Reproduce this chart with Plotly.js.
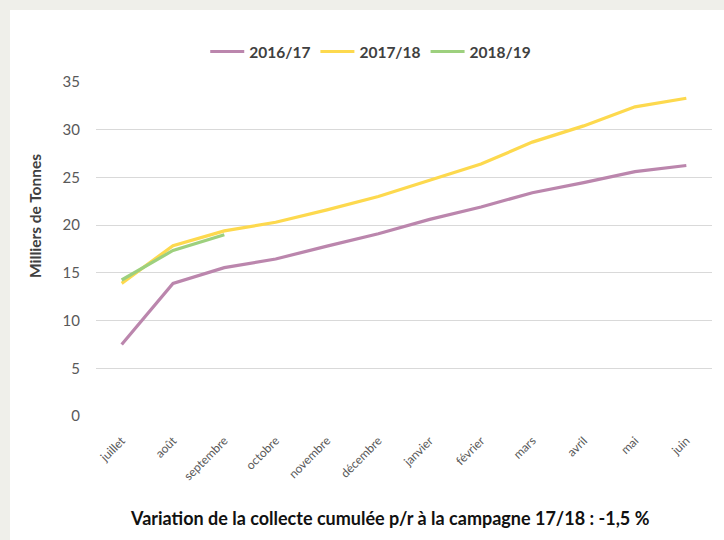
<!DOCTYPE html>
<html>
<head>
<meta charset="utf-8">
<script src="https://cdn.plot.ly/plotly-3.0.1.min.js"></script>
<style>
html,body{margin:0;padding:0;background:#efefea;width:724px;height:540px;overflow:hidden;}
#panel{position:absolute;left:10px;top:10px;width:714px;height:530px;background:#fff;}
#chart{width:714px;height:530px;}
</style>
</head>
<body>
<div id="panel"><div id="chart"></div></div>
<script>
const months = ["juillet","août","septembre","octobre","novembre","décembre","janvier","février","mars","avril","mai","juin"];
const s1617 = [7.5, 13.9, 15.55, 16.45, 17.8, 19.1, 20.6, 21.9, 23.4, 24.45, 25.6, 26.25];
const s1718 = [13.9, 17.85, 19.4, 20.3, 21.6, 23.0, 24.7, 26.4, 28.7, 30.4, 32.4, 33.3];
const s1819 = [14.25, 17.35, 19.0];
const seriesNames = ["2016/17","2017/18","2018/19"];
const colors = ["#bb86ad","#fdd94e","#9dd07e"];
const yTickVals = [0,5,10,15,20,25,30,35];

const traces = [s1617, s1718, s1819].map((vals, i) => ({
  x: months.slice(0, vals.length),
  y: vals,
  name: seriesNames[i],
  type: "scatter",
  mode: "lines",
  line: {color: colors[i], width: 3.2}
}));

const font = "Lato, 'Open Sans', sans-serif";
const layout = {
  width: 714, height: 530,
  margin: {l: 86, r: 12, t: 72, b: 124},
  paper_bgcolor: "#ffffff",
  plot_bgcolor: "#ffffff",
  font: {family: font, color: "#595959"},
  showlegend: true,
  legend: {
    orientation: "h", x: 0.446, xanchor: "center", y: 1.09, yanchor: "middle",
    font: {family: font, size: 15.5, color: "#404040", weight: "bold"},
    itemwidth: 34, tracegroupgap: 0
  },
  xaxis: {
    type: "category",
    categoryorder: "array", categoryarray: months,
    range: [-0.5, 11.5],
    showgrid: false, zeroline: false, showline: false,
    tickangle: -45,
    ticks: "outside", ticklen: 12, tickcolor: "rgba(0,0,0,0)",
    tickfont: {family: font, size: 12, color: "#595959"}
  },
  yaxis: {
    range: [0, 35],
    tickvals: yTickVals,
    showgrid: true, gridcolor: "#d9d9d9", gridwidth: 1,
    zeroline: false, showline: false,
    ticks: "outside", ticklen: 12, tickcolor: "rgba(0,0,0,0)",
    tickfont: {family: font, size: 15, color: "#595959"}
  },
  annotations: [{
    text: "Variation de la collecte cumulée p/r à la campagne 17/18 : -1,5 %",
    xref: "paper", yref: "paper", x: 0.477, y: -0.305,
    xanchor: "center", yanchor: "middle", showarrow: false,
    font: {family: font, size: 18, color: "#111111", weight: "bold"}
  }, {
    text: "Milliers de Tonnes",
    xref: "paper", yref: "paper", x: -0.099, y: 0.599,
    xanchor: "center", yanchor: "middle", showarrow: false, textangle: -90,
    font: {family: font, size: 15.5, color: "#404040", weight: "bold"}
  }]
};
Plotly.newPlot("chart", traces, layout, {displayModeBar: false, staticPlot: true});
</script>
</body>
</html>
